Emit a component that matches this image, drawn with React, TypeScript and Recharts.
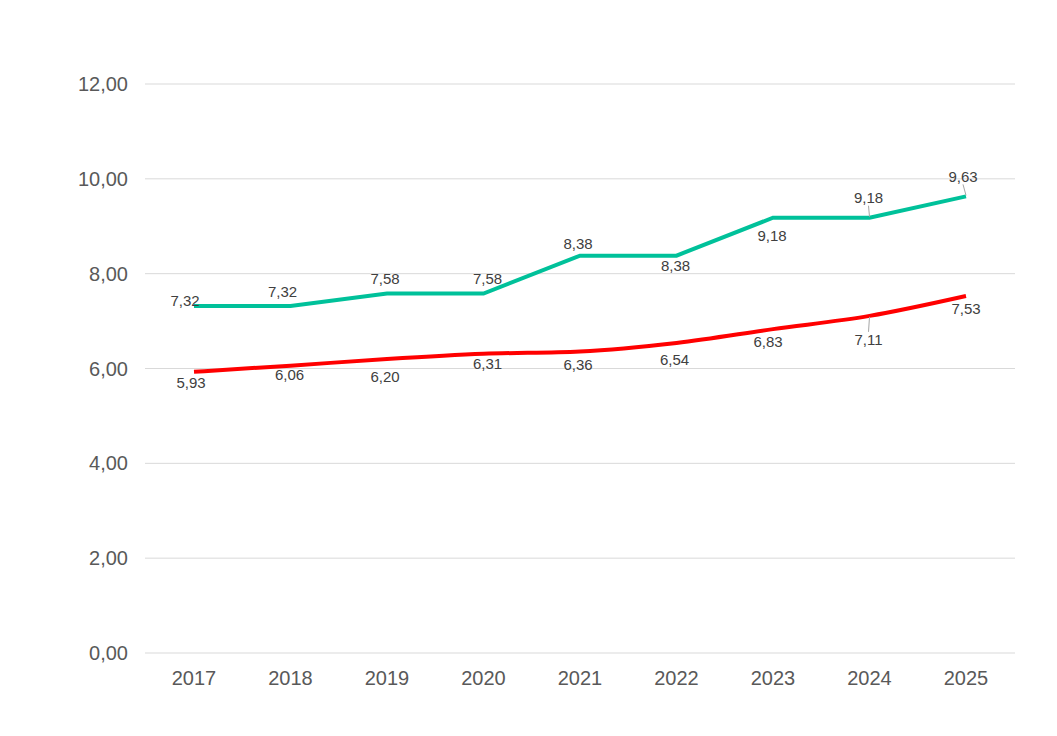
import { LineChart, Line, XAxis, YAxis, CartesianGrid } from 'recharts';

const years = ['2017', '2018', '2019', '2020', '2021', '2022', '2023', '2024', '2025'];
const greenValues = [7.32, 7.32, 7.58, 7.58, 8.38, 8.38, 9.18, 9.18, 9.63];
const redValues = [5.93, 6.06, 6.2, 6.31, 6.36, 6.54, 6.83, 7.11, 7.53];
const yTicks = [0, 2, 4, 6, 8, 10, 12];

// label placement (offset from the point), tuned by eye
const greenLabelDx = [-9, -8, -2, 4, -2, -1, -1, -1, -3];
const greenLabelDy = [-5, -14, -15, -15, -12, 10, 18, -20, -20];
const greenLeader = [false, false, false, false, false, false, false, true, true];
const redLabelDx = [-3, -1, -2, 4, -2, -2, -5, -1, 0];
const redLabelDy = [11, 9, 17, 10, 13, 17, 12, 24, 13];
const redLeader = [false, false, false, false, false, false, false, true, false];

const data = years.map((year, i) => ({ year, green: greenValues[i], red: redValues[i] }));

const fmt = (v: number) => v.toFixed(2).replace('.', ',');

const makeLabel = (dxs: number[], dys: number[], leaders: boolean[]) => (props: any) => {
  const { x, y, index, value } = props;
  const lx = x + dxs[index];
  const ly = y + dys[index];
  const dir = dys[index] < 0 ? 1 : -1;
  return (
    <g key={`lbl-${index}`}>
      {leaders[index] && (
        <line x1={lx} y1={ly + dir * 8} x2={x} y2={y - dir * 1} stroke="#a6a6a6" strokeWidth={1} />
      )}
      <text x={lx} y={ly} textAnchor="middle" dominantBaseline="central" fontSize={15} fill="#404040">
        {fmt(value)}
      </text>
    </g>
  );
};

export default function App() {
  return (
    <div style={{ position: 'absolute', left: 0, top: 0, background: '#fff', fontFamily: '"Liberation Sans", Arial, sans-serif' }}>
      <LineChart width={1057} height={736} data={data} margin={{ top: 84, right: 42, left: 0, bottom: 53 }}>
        <CartesianGrid vertical={false} stroke="#d9d9d9" />
        <XAxis
          dataKey="year"
          padding={{ left: 49, right: 49 }}
          axisLine={false}
          tickLine={false}
          tickMargin={12}
          tick={{ fill: '#595959', fontSize: 20 }}
        />
        <YAxis
          domain={[0, 12]}
          ticks={yTicks}
          width={145}
          axisLine={false}
          tickLine={false}
          tickMargin={11}
          tickFormatter={fmt}
          tick={{ fill: '#595959', fontSize: 20 }}
        />
        <Line
          type="linear"
          dataKey="green"
          stroke="#00c19a"
          strokeWidth={4}
          dot={false}
          isAnimationActive={false}
          label={makeLabel(greenLabelDx, greenLabelDy, greenLeader)}
        />
        <Line
          type="monotone"
          dataKey="red"
          stroke="#ff0000"
          strokeWidth={4}
          dot={false}
          isAnimationActive={false}
          label={makeLabel(redLabelDx, redLabelDy, redLeader)}
        />
      </LineChart>
    </div>
  );
}
